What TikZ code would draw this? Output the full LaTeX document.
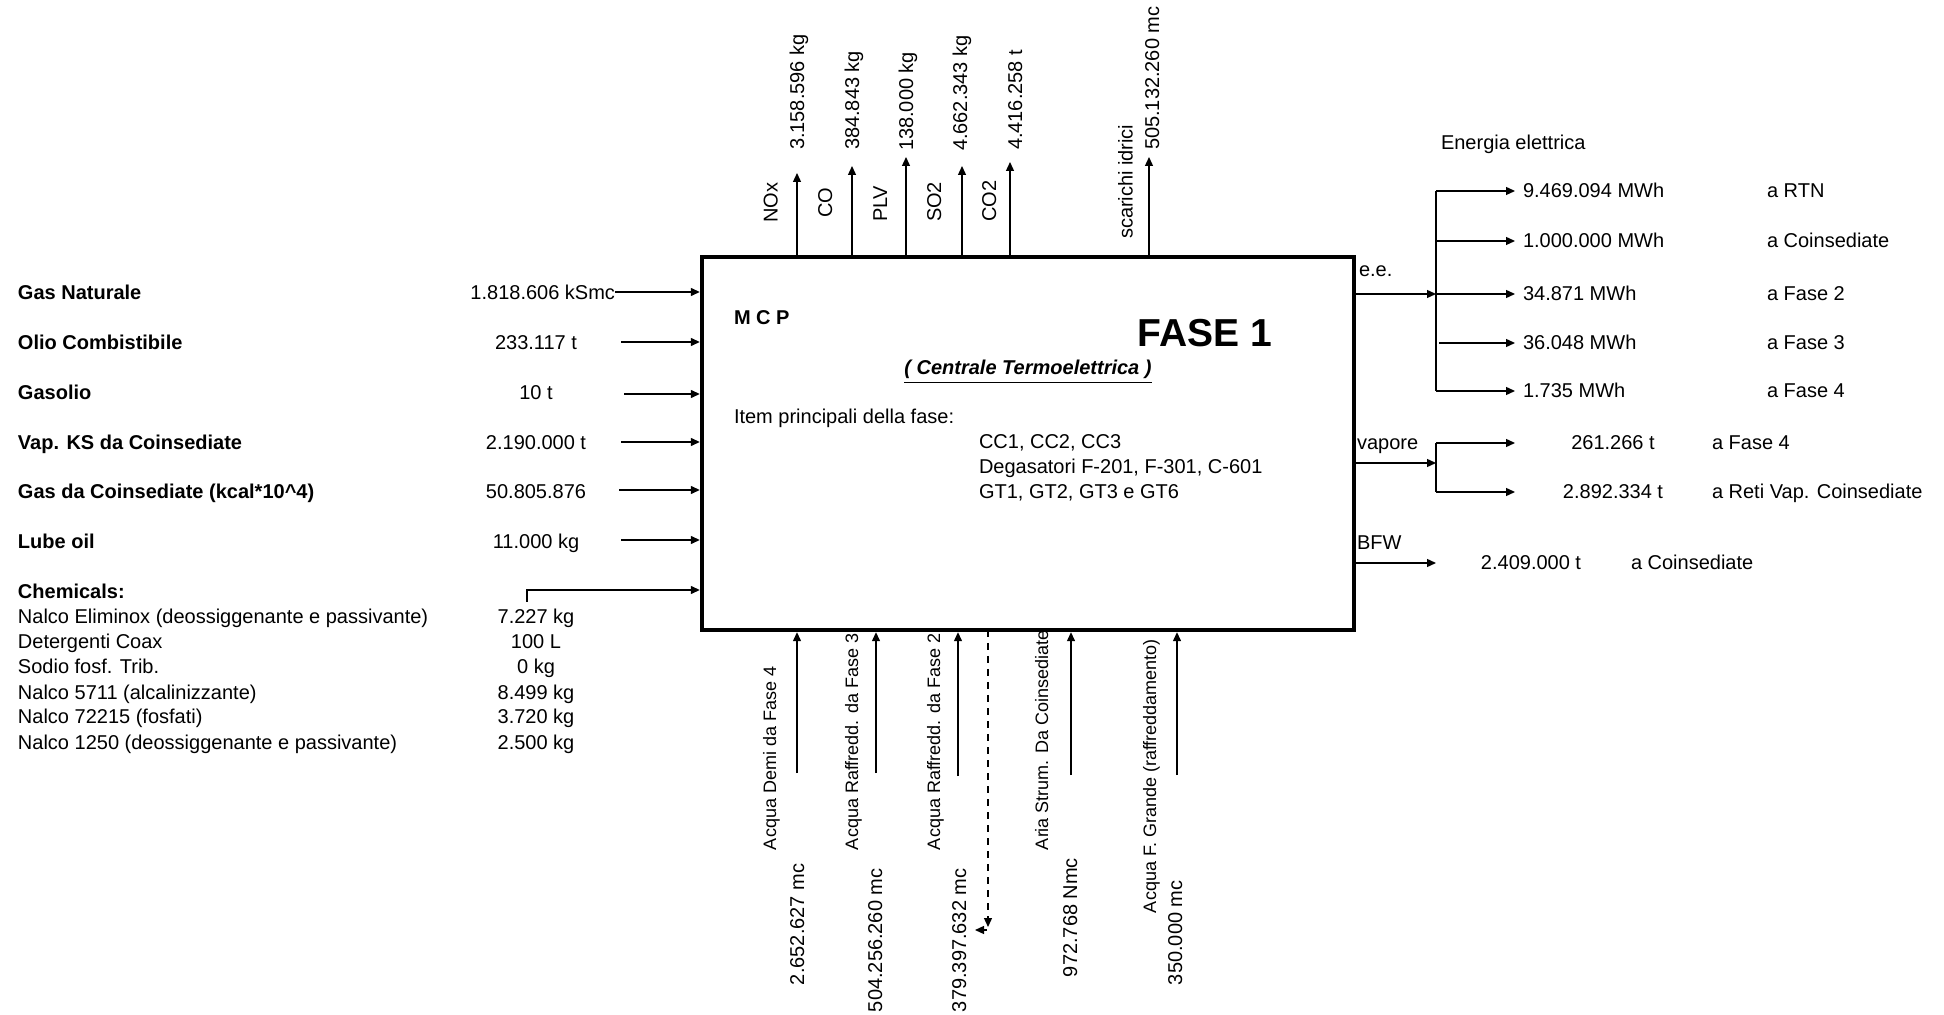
\documentclass[tikz,border=0pt]{standalone}
\usepackage{fontspec}
\setmainfont{Liberation Sans}
\usetikzlibrary{arrows.meta}
\begin{document}
\begin{tikzpicture}[x=0.5pt,y=-0.5pt,
  every node/.style={inner sep=0pt,outer sep=0pt,font=\fontsize{10}{12}\selectfont},
  arr/.style={line width=0.65pt,-{Triangle[length=4.5pt,width=4pt]}},
  ln/.style={line width=0.65pt},
  lbl/.style={anchor=base west},
  cl/.style={anchor=base},
  vlbl/.style={rotate=90,anchor=base west},
  slbl/.style={rotate=90,anchor=base west,font=\fontsize{9}{11}\selectfont},
  bf/.style={font=\fontsize{10}{12}\selectfont\bfseries},
]
\useasboundingbox[fill=white] (0,0) rectangle (1944,1015);
% main box
\node[draw,line width=2.2pt,minimum width=326pt,minimum height=186.5pt] (box) at (1028,443.5) {};
\node[bf,lbl] (mcp) at (734,325) {M C P};
\node[anchor=base,font=\fontsize{19.5}{22}\selectfont\bfseries] (fase) at (1205,347) {FASE 1};
\node[anchor=base,font=\fontsize{10}{12}\selectfont\bfseries\itshape] (cte) at (1028,375) {\underline{( Centrale Termoelettrica )}};
\node[lbl] (item) at (734,424) {Item principali della fase:};
\node[lbl] (it1) at (979,449) {CC1, CC2, CC3};
\node[lbl] (it2) at (979,474) {Degasatori F-201, F-301, C-601};
\node[lbl] (it3) at (979,499) {GT1, GT2, GT3 e GT6};

% left inputs
\node[bf,lbl] (l1) at (18,300) {Gas Naturale};
\node[bf,lbl] (l2) at (18,350) {Olio Combistibile};
\node[bf,lbl] (l3) at (18,400) {Gasolio};
\node[bf,lbl] (l4) at (18,450) {Vap. KS da Coinsediate};
\node[bf,lbl] (l5) at (18,499) {Gas da Coinsediate (kcal*10\^{}4)};
\node[bf,lbl] (l6) at (18,549) {Lube oil};
\node[bf,lbl] (l7) at (18,599) {Chemicals:};
\node[lbl] (c1) at (18,624) {Nalco Eliminox (deossiggenante e passivante)};
\node[lbl] (c2) at (18,649) {Detergenti Coax};
\node[lbl] (c3) at (18,674) {Sodio fosf. Trib.};
\node[lbl] (c4) at (18,699) {Nalco 5711 (alcalinizzante)};
\node[lbl] (c5) at (18,724) {Nalco 72215 (fosfati)};
\node[lbl] (c6) at (18,749) {Nalco 1250 (deossiggenante e passivante)};

\node[anchor=base east] (v1) at (615,300) {1.818.606 kSmc};
\node[cl] (v2) at (536,350) {233.117 t};
\node[cl] (v3) at (536,400) {10 t};
\node[cl] (v4) at (536,450) {2.190.000 t};
\node[cl] (v5) at (536,499) {50.805.876};
\node[cl] (v6) at (536,549) {11.000 kg};
\node[cl] (cv1) at (536,624) {7.227 kg};
\node[cl] (cv2) at (536,649) {100 L};
\node[cl] (cv3) at (536,674) {0 kg};
\node[cl] (cv4) at (536,699) {8.499 kg};
\node[cl] (cv5) at (536,724) {3.720 kg};
\node[cl] (cv6) at (536,749) {2.500 kg};

\coordinate (a1) at (615,292);
\coordinate (a2) at (621,342);
\coordinate (a3) at (624,394);
\coordinate (a4) at (621,442);
\coordinate (a5) at (619,490);
\coordinate (a6) at (621,540);
\coordinate (a7) at (527,602);
\coordinate (a7b) at (527,590);
\foreach \c in {a1,a2,a3,a4,a5,a6}
  \draw[arr,shorten >=1.1pt] (\c) -- (box.west |- \c);
\draw[arr,shorten >=1.1pt] (a7) -- (a7b) -- (box.west |- a7b);

% top outputs
\coordinate (t1) at (797,173);
\coordinate (t2) at (852,166);
\coordinate (t3) at (906,157);
\coordinate (t4) at (962,166);
\coordinate (t5) at (1010,162);
\coordinate (t6) at (1149,157);
\foreach \c in {t1,t2,t3,t4,t5,t6}
  \draw[arr] (box.north -| \c) -- (\c);
\node[vlbl] (n1) at (777.6,223) {NOx};
\node[vlbl] (n2) at (832,218) {CO};
\node[vlbl] (n3) at (887,222) {PLV};
\node[vlbl] (n4) at (941,222) {SO2};
\node[vlbl] (n5) at (996,222) {CO2};
\node[vlbl] (n6) at (1132.5,239) {scarichi idrici};
\node[vlbl] (q1) at (804,150) {3.158.596 kg};
\node[vlbl] (q2) at (859,150) {384.843 kg};
\node[vlbl] (q3) at (913,151) {138.000 kg};
\node[vlbl] (q4) at (967,151) {4.662.343 kg};
\node[vlbl] (q5) at (1022,150) {4.416.258 t};
\node[vlbl] (q6) at (1159,150) {505.132.260 mc};

% right: energia elettrica
\node[lbl] (ee) at (1441,150) {Energia elettrica};
\node[lbl] (eel) at (1359,277) {e.e.};
\coordinate (bus) at (1436,294);
\coordinate (bt) at (1436,191);
\coordinate (bb) at (1436,391);
\draw[ln] (bt) -- (bb);
\draw[arr] (box.east |- bus) -- (bus);
\coordinate (r1) at (1515,191);
\coordinate (r2) at (1515,241);
\coordinate (r3) at (1515,294);
\coordinate (r4) at (1515,343);
\coordinate (r5) at (1515,391);
\foreach \c in {r1,r2,r3,r5}
  \draw[arr] (bt |- \c) -- (\c);
\draw[arr] (1439,343) -- (r4);
\node[lbl] (e1) at (1523,198) {9.469.094 MWh};
\node[lbl] (e2) at (1523,248) {1.000.000 MWh};
\node[lbl] (e3) at (1523,301) {34.871 MWh};
\node[lbl] (e4) at (1523,350) {36.048 MWh};
\node[lbl] (e5) at (1523,398) {1.735 MWh};
\node[lbl] (d1) at (1767,198) {a RTN};
\node[lbl] (d2) at (1767,248) {a Coinsediate};
\node[lbl] (d3) at (1767,301) {a Fase 2};
\node[lbl] (d4) at (1767,350) {a Fase 3};
\node[lbl] (d5) at (1767,398) {a Fase 4};

% vapore
\node[lbl] (vap) at (1357,450) {vapore};
\coordinate (vb) at (1436,463);
\coordinate (vt) at (1436,443);
\coordinate (vbo) at (1436,492);
\draw[ln] (vt) -- (vbo);
\draw[arr] (box.east |- vb) -- (vb);
\coordinate (s1) at (1515,443);
\coordinate (s2) at (1515,492);
\draw[arr] (vt) -- (s1);
\draw[arr] (vbo) -- (s2);
\node[cl] (sv1) at (1613,450) {261.266 t};
\node[cl] (sv2) at (1613,499) {2.892.334 t};
\node[lbl] (sd1) at (1712,450) {a Fase 4};
\node[lbl] (sd2) at (1712,499) {a Reti Vap. Coinsediate};

% BFW
\node[lbl] (bfw) at (1357,550) {BFW};
\coordinate (bf) at (1436,563);
\draw[arr] (box.east |- bf) -- (bf);
\node[cl] (bv) at (1531,570) {2.409.000 t};
\node[lbl] (bd) at (1631,570) {a Coinsediate};

% bottom inputs
\coordinate (b1) at (797,773);
\coordinate (b2) at (876,773);
\coordinate (b3) at (958,776);
\coordinate (b4) at (1071,775);
\coordinate (b5) at (1177,775);
\foreach \c in {b1,b2,b3,b4,b5}
  \draw[arr,shorten >=1.1pt] (\c) -- (box.south -| \c);
\coordinate (dsh) at (988,927);
\draw[arr,dash pattern=on 3.5pt off 3pt] (box.south -| dsh) -- (dsh);
\coordinate (sm1) at (987,930);
\coordinate (sm2) at (975,930);
\draw[arr] (sm1) -- (sm2);

\node[slbl] (g1) at (776,850) {Acqua Demi da Fase 4};
\node[slbl] (g2) at (858,850) {Acqua Raffredd. da Fase 3};
\node[slbl] (g3) at (940,850) {Acqua Raffredd. da Fase 2};
\node[slbl] (g4) at (1048,850) {Aria Strum. Da Coinsediate};
\node[slbl] (g5) at (1156,913) {Acqua F. Grande (raffreddamento)};
\node[vlbl] (h1) at (804,985) {2.652.627 mc};
\node[vlbl] (h2) at (882,1012) {504.256.260 mc};
\node[vlbl] (h3) at (966,1012) {379.397.632 mc};
\node[vlbl] (h4) at (1077,977) {972.768 Nmc};
\node[vlbl] (h5) at (1182,985) {350.000 mc};
\end{tikzpicture}
\end{document}
